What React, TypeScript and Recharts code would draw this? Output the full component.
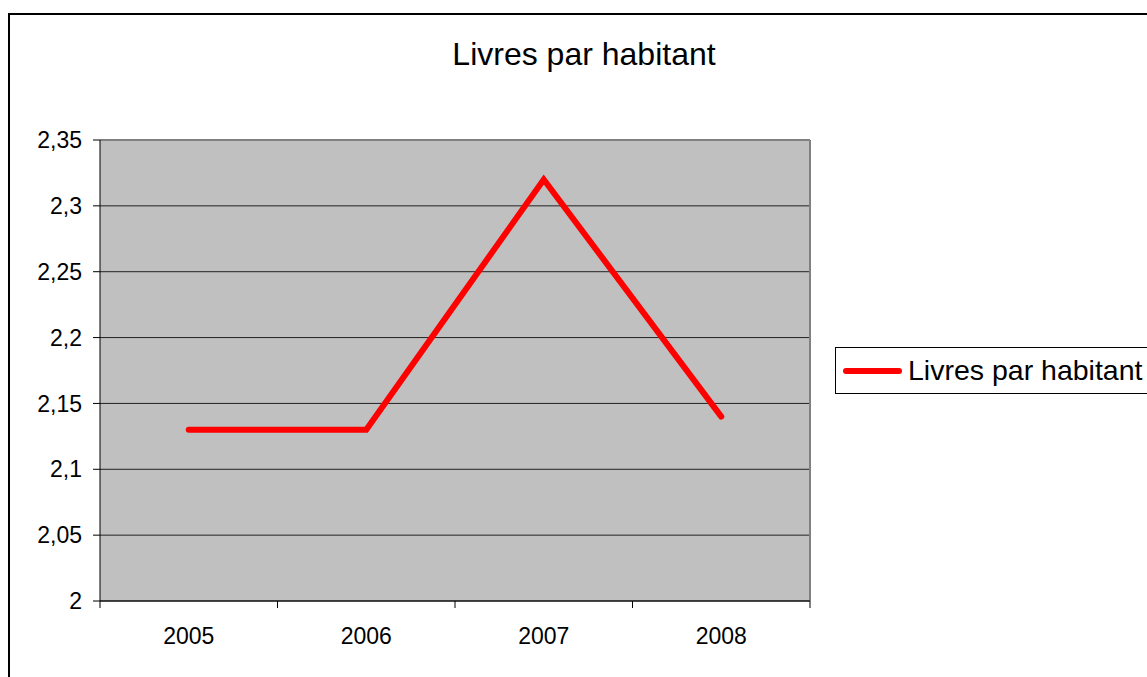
import React from 'react';
import { LineChart, Line, XAxis, YAxis, CartesianGrid, Legend, ReferenceLine } from 'recharts';

const years = ['2005', '2006', '2007', '2008'];
const livresParHabitant = [2.13, 2.13, 2.32, 2.14];
const yTicks = [2, 2.05, 2.1, 2.15, 2.2, 2.25, 2.3, 2.35];
const seriesName = 'Livres par habitant';
const title = 'Livres par habitant';

const data = years.map((year, i) => ({ pos: i + 0.5, year, value: livresParHabitant[i] }));
const xTicks: number[] = [];
for (let i = 0; i <= years.length; i++) {
  xTicks.push(i);
  if (i < years.length) xTicks.push(i + 0.5);
}

const FONT = '"Liberation Sans", Arial, sans-serif';

const XTick = (props: any) => {
  const { x, y, payload } = props;
  const v = payload.value;
  if (Number.isInteger(v)) {
    return <line x1={x} x2={x} y1={y} y2={y + 7} stroke="#000" strokeWidth={1} />;
  }
  const idx = Math.floor(v);
  return (
    <text x={x} y={y + 43} textAnchor="middle" fontFamily={FONT} fontSize={23} fill="#000">
      {years[idx]}
    </text>
  );
};

const fmt = (v: number) => String(v).replace('.', ',');

const LegendContent = (props: any) => {
  const payload = props.payload || [];
  return (
    <div
      style={{
        border: '1px solid #000',
        background: '#fff',
        height: 45,
        width: 400,
        display: 'flex',
        alignItems: 'center',
        paddingLeft: 7,
        boxSizing: 'content-box',
      }}
    >
      {payload.map((p: any, i: number) => (
        <div key={i} style={{ display: 'flex', alignItems: 'center' }}>
          <svg width={59} height={8}>
            <line x1={3} x2={56} y1={4} y2={4} stroke="#FF0000" strokeWidth={6} strokeLinecap="round" />
          </svg>
          <span style={{ marginLeft: 6, fontFamily: FONT, fontSize: 28.5, lineHeight: 1, color: '#000' }}>
            {p.value}
          </span>
        </div>
      ))}
    </div>
  );
};

export default function App() {
  return (
    <div
      style={{
        position: 'fixed',
        left: 0,
        top: 0,
        width: 1147,
        height: 677,
        overflow: 'hidden',
        background: '#fff',
      }}
    >
      <div
        style={{
          position: 'absolute',
          left: 8,
          top: 13,
          width: 1300,
          height: 800,
          border: '2px solid #000',
        }}
      />
      <div
        style={{
          position: 'absolute',
          left: 0,
          width: 1168,
          top: 38,
          textAlign: 'center',
          fontFamily: FONT,
          fontSize: 32,
          lineHeight: '32px',
          color: '#000',
          whiteSpace: 'nowrap',
        }}
      >
        {title}
      </div>
      <div style={{ position: 'absolute', left: 0, top: 0 }}>
        <LineChart
          width={1147}
          height={677}
          data={data}
          margin={{ top: 140, right: 337, bottom: 16, left: 20 }}
        >
          <CartesianGrid vertical={false} horizontal stroke="#222" strokeWidth={1} fill="#C0C0C0" fillOpacity={1} />
          <ReferenceLine y={2.35} stroke="#808080" strokeWidth={2} ifOverflow="visible" />
          <ReferenceLine x={years.length} stroke="#808080" strokeWidth={2} ifOverflow="visible" />
          <XAxis
            type="number"
            dataKey="pos"
            domain={[0, years.length]}
            ticks={xTicks}
            interval={0}
            tick={<XTick />}
            tickLine={false}
            tickSize={0}
            tickMargin={0}
            height={60}
            axisLine={{ stroke: '#000', strokeWidth: 1 }}
          />
          <YAxis
            type="number"
            domain={[2, 2.35]}
            ticks={yTicks}
            interval={0}
            width={80}
            tickFormatter={fmt}
            tickSize={7}
            tickMargin={11}
            tickLine={{ stroke: '#000' }}
            axisLine={{ stroke: '#000', strokeWidth: 1 }}
            tick={{ fontFamily: FONT, fontSize: 23, fill: '#000' }}
          />
          <Legend
            layout="horizontal"
            verticalAlign="middle"
            align="center"
            content={<LegendContent />}
            wrapperStyle={{ left: 835, top: 347, width: 420, height: 47 }}
          />
          <Line
            type="linear"
            dataKey="value"
            name={seriesName}
            stroke="#FF0000"
            strokeWidth={6}
            strokeLinecap="round"
            dot={false}
            activeDot={false}
            isAnimationActive={false}
          />
        </LineChart>
      </div>
    </div>
  );
}
